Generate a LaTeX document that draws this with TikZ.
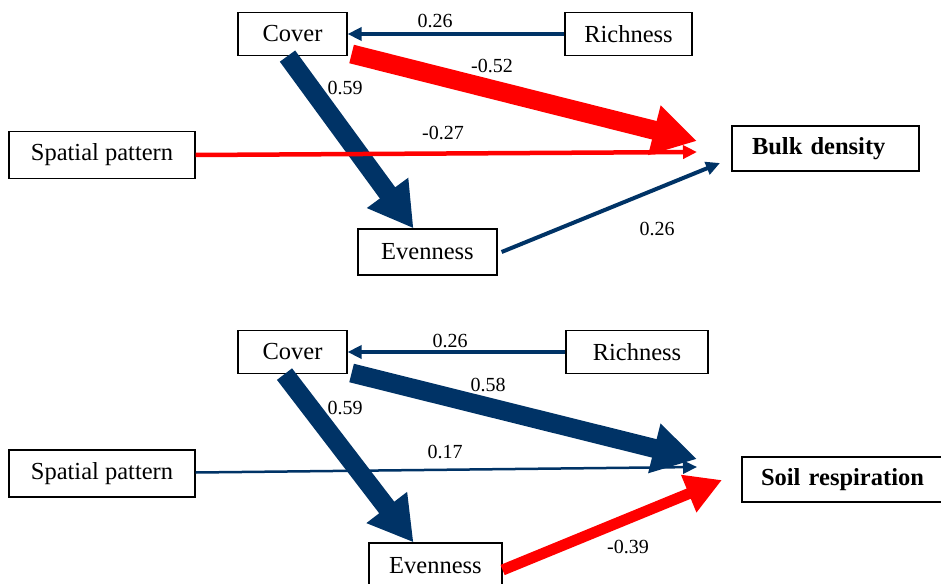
\documentclass[tikz,border=0pt]{standalone}
\usepackage{fontspec}
\setmainfont{Liberation Serif}
\usetikzlibrary{arrows.meta}
\definecolor{navy}{RGB}{0,51,102}
\newcommand{\boxh}{43pt}

\begin{document}
\begin{tikzpicture}[x=1pt,y=-1pt]
    \useasboundingbox (0,0) rectangle (941,583);

    % variable boxes
    \begin{scope}[every node/.style={draw,line width=1.2pt,minimum height=\boxh,inner sep=0pt,font=\fontsize{24.5}{28}\selectfont}]
        \node[minimum width=109pt] (cover1) at (292.5,34) {Cover};
        \node[minimum width=127pt] (rich1) at (628.5,34) {Richness};
        \node[minimum width=186pt,minimum height=47pt] (spat1) at (102,155) {Spatial pattern};
        \node[minimum width=139pt,minimum height=46pt] (even1) at (427.5,252) {Evenness};
        \node[minimum height=45pt,inner xsep=20pt,text width=147pt,align=left,font=\fontsize{24.5}{28}\selectfont\bfseries] (bulk1) at (825.5,148.5) {Bulk density};

        \node[minimum width=109pt] (cover2) at (292.5,352) {Cover};
        \node[minimum width=142pt] (rich2) at (637,352) {Richness};
        \node[minimum width=186pt,minimum height=47pt] (spat2) at (102,473.5) {Spatial pattern};
        \node[minimum width=133pt,minimum height=46pt] (even2) at (435.5,566) {Evenness};
        \node[minimum height=45pt,inner xsep=19pt,text width=199pt,align=left,font=\fontsize{24.5}{28}\selectfont\bfseries] (soil2) at (860.5,479.5) {Soil respiration};
    \end{scope}

    % arrow tips short of the targets
    \coordinate (bulkA) at (697,141);
    \coordinate (bulkB) at (697,152);
    \coordinate (bulkC) at (720,163);
    \coordinate (soilA) at (697,459);
    \coordinate (soilB) at (697,467);
    \coordinate (soilC) at (722,480);

    \begin{scope}[>={Triangle[length=14pt,width=13pt]},
        fat/.style={line width=19pt,-{Triangle[length=44pt,width=48pt]}},
        mid/.style={line width=11pt,-{Triangle[length=36pt,width=38pt]}}]
        \draw[->,navy,line width=4pt] (rich1.west) -- (cover1.east);
        \draw[fat,red] ([xshift=4pt,yshift=-20pt]cover1.east) -- (bulkA);
        \draw[fat,navy] ([xshift=-5pt]cover1.south) -- ([xshift=-14pt]even1.north);
        \draw[->,red,line width=4.5pt] (spat1.east) -- (bulkB);
        \draw[->,navy,line width=4pt] ([xshift=4pt]even1.east) -- (bulkC);

        \draw[->,navy,line width=4pt] (rich2.west) -- (cover2.east);
        \draw[fat,navy] ([xshift=4pt,yshift=-21pt]cover2.east) -- (soilA);
        \draw[fat,navy] ([xshift=-8pt]cover2.south) -- ([xshift=-22pt]even2.north);
        \draw[->,navy,line width=2.5pt] ([yshift=1pt]spat2.east) -- (soilB);
        \draw[mid,red] ([yshift=-4pt]even2.east) -- (soilC);
    \end{scope}

    % path coefficients
    \begin{scope}[every node/.style={inner sep=0pt,font=\fontsize{20}{23}\selectfont}]
        \node (w1) at (435,21) {0.26};
        \node (w2) at (492,66) {-0.52};
        \node (w3) at (345,88) {0.59};
        \node (w4) at (443,133) {-0.27};
        \node (w5) at (657,229) {0.26};

        \node (v1) at (450,341) {0.26};
        \node (v2) at (488,385) {0.58};
        \node (v3) at (345,408) {0.59};
        \node (v4) at (445,452) {0.17};
        \node (v5) at (628,547) {-0.39};
    \end{scope}
\end{tikzpicture}
\end{document}
